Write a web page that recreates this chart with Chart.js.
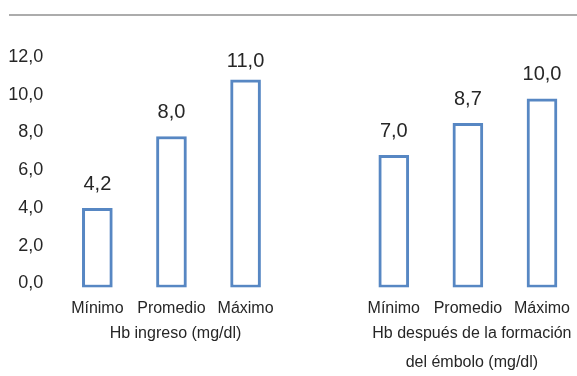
<!DOCTYPE html>
<html>
<head>
<meta charset="utf-8">
<script src="https://cdn.jsdelivr.net/npm/chart.js"></script>
<style>
  html, body { margin: 0; padding: 0; background: #fff; overflow: hidden; }
  #wrap { position: relative; width: 581px; height: 376px; }
  #topline { position: absolute; left: 9px; top: 14px; width: 572px; height: 0; border-top: 2px solid #acacac; }
</style>
</head>
<body>
<div id="wrap">
  <div id="topline"></div>
  <canvas id="hb"></canvas>
</div>
<script>
const categories = ['Mínimo', 'Promedio', 'Máximo', '', 'Mínimo', 'Promedio', 'Máximo'];
const hbValues = [4.2, 8.0, 11.0, null, 7.0, 8.7, 10.0];
const groupLabels = [['Hb ingreso (mg/dl)'], ['Hb después de la formación', 'del émbolo (mg/dl)']];
const groupCenters = [1, 5];
const yTicks = [0, 2, 4, 6, 8, 10, 12];

const fmt = v => v.toFixed(1).replace('.', ',');
const FONT = '"Liberation Sans", Arial, sans-serif';

// valores encima de cada barra
const valueLabels = {
  id: 'valueLabels',
  afterDatasetsDraw(chart) {
    const ctx = chart.ctx;
    const meta = chart.getDatasetMeta(0);
    ctx.save();
    ctx.font = '20px ' + FONT;
    ctx.fillStyle = '#262626';
    ctx.textAlign = 'center';
    ctx.textBaseline = 'middle';
    meta.data.forEach((bar, i) => {
      const v = hbValues[i];
      if (v == null) return;
      const y = Math.max(bar.y - 24, chart.chartArea.top);
      ctx.fillText(fmt(v), bar.x, y);
    });
    ctx.restore();
  }
};

// titulos de cada grupo debajo de las categorias
const groupTitles = {
  id: 'groupTitles',
  afterDraw(chart) {
    const ctx = chart.ctx;
    const x = chart.scales.x;
    ctx.save();
    ctx.font = '16px ' + FONT;
    ctx.fillStyle = '#262626';
    ctx.textAlign = 'center';
    ctx.textBaseline = 'middle';
    groupLabels.forEach((lines, g) => {
      const cx = x.getPixelForValue(groupCenters[g]) + 4;
      lines.forEach((t, k) => {
        ctx.fillText(t, cx, chart.chartArea.bottom + 46 + k * 29);
      });
    });
    ctx.restore();
  }
};

new Chart('hb', {
  type: 'bar',
  data: {
    labels: categories,
    datasets: [{
      data: hbValues,
      backgroundColor: '#ffffff',
      borderColor: '#5787c3',
      borderWidth: 3,
      borderSkipped: false,
      barThickness: 30
    }]
  },
  options: {
    responsive: true,
    maintainAspectRatio: false,
    animation: false,
    layout: { padding: { top: 61, left: 0, right: 0, bottom: 0 } },
    plugins: {
      legend: { display: false },
      tooltip: { enabled: false }
    },
    scales: {
      x: {
        grid: { display: false, drawTicks: false },
        border: { display: false },
        ticks: {
          color: '#262626',
          font: { family: FONT, size: 16 },
          padding: 11,
          maxRotation: 0,
          autoSkip: false
        },
        afterFit(scale) { scale.height = 88.5; }
      },
      y: {
        min: 0,
        max: 12,
        grid: { display: false, drawTicks: false },
        border: { display: false },
        afterBuildTicks(scale) { scale.ticks = yTicks.map(v => ({ value: v })); },
        ticks: {
          color: '#262626',
          font: { family: FONT, size: 18 },
          padding: 17,
          labelOffset: -4,
          callback: v => fmt(v)
        },
        afterFit(scale) { scale.width = 60.3; }
      }
    }
  },
  plugins: [valueLabels, groupTitles]
});
</script>
</body>
</html>
